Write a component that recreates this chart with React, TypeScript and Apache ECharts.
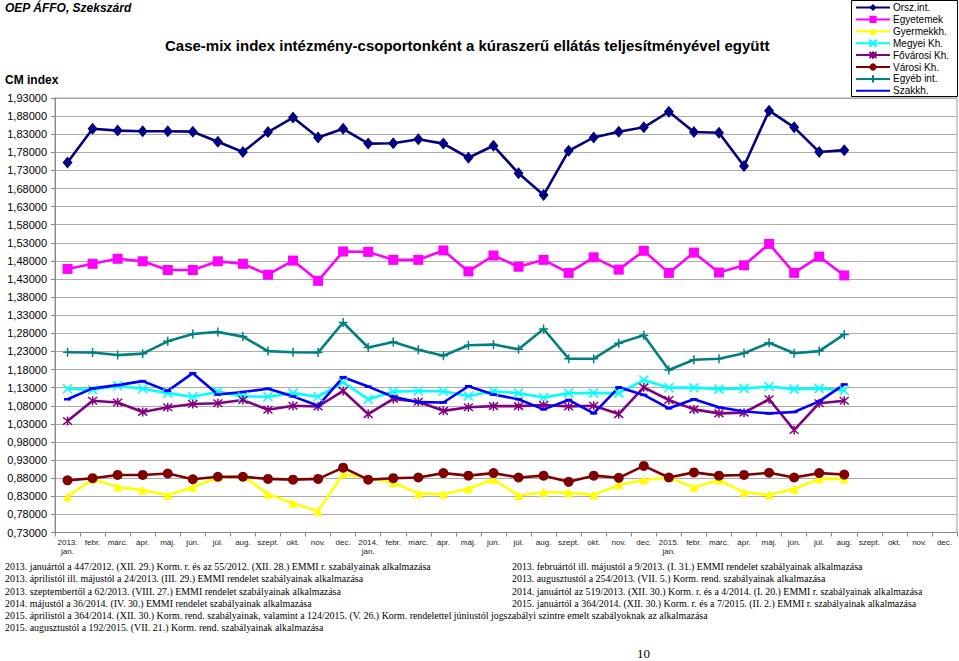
import React, { useEffect, useRef } from "react";
import * as echarts from "echarts";

const months: string[] = [
  "2013.\njan.", "febr.", "márc.", "ápr.", "máj.", "jún.", "júl.", "aug.", "szept.", "okt.", "nov.", "dec.",
  "2014.\njan.", "febr.", "márc.", "ápr.", "máj.", "jún.", "júl.", "aug.", "szept.", "okt.", "nov.", "dec.",
  "2015.\njan.", "febr.", "márc.", "ápr.", "máj.", "jún.", "júl.", "aug.", "szept.", "okt.", "nov.", "dec.",
];

const yTicks: number[] = [
  0.73, 0.78, 0.83, 0.88, 0.93, 0.98, 1.03, 1.08, 1.13, 1.18, 1.23, 1.28, 1.33,
  1.38, 1.43, 1.48, 1.53, 1.58, 1.63, 1.68, 1.73, 1.78, 1.83, 1.88, 1.93,
];

const orszInt: number[] = [
  1.752, 1.845, 1.840, 1.838, 1.838, 1.837, 1.809, 1.781, 1.836, 1.876, 1.821, 1.845,
  1.804, 1.805, 1.816, 1.804, 1.765, 1.798, 1.722, 1.662, 1.784, 1.821, 1.837, 1.849,
  1.892, 1.836, 1.834, 1.742, 1.895, 1.849, 1.781, 1.786,
];
const egyetemek: number[] = [
  1.458, 1.472, 1.486, 1.479, 1.455, 1.455, 1.479, 1.472, 1.442, 1.481, 1.425, 1.506,
  1.505, 1.483, 1.483, 1.509, 1.451, 1.495, 1.464, 1.483, 1.447, 1.490, 1.456, 1.508,
  1.447, 1.503, 1.448, 1.468, 1.527, 1.447, 1.492, 1.440,
];
const gyermekkh: number[] = [
  0.829, 0.877, 0.856, 0.847, 0.833, 0.855, 0.882, 0.886, 0.836, 0.811, 0.789, 0.892,
  0.880, 0.868, 0.838, 0.836, 0.851, 0.877, 0.832, 0.841, 0.840, 0.834, 0.861, 0.875,
  0.882, 0.854, 0.875, 0.841, 0.834, 0.850, 0.878, 0.878,
];
const megyeiKh: number[] = [
  1.127, 1.124, 1.135, 1.127, 1.115, 1.105, 1.119, 1.106, 1.105, 1.115, 1.105, 1.145,
  1.098, 1.119, 1.121, 1.120, 1.107, 1.120, 1.115, 1.103, 1.115, 1.115, 1.115, 1.151,
  1.130, 1.130, 1.126, 1.128, 1.133, 1.126, 1.128, 1.122,
];
const fovarosiKh: number[] = [
  1.038, 1.094, 1.089, 1.063, 1.076, 1.085, 1.087, 1.096, 1.069, 1.080, 1.078, 1.121,
  1.057, 1.099, 1.091, 1.066, 1.076, 1.079, 1.079, 1.082, 1.078, 1.080, 1.057, 1.131,
  1.096, 1.070, 1.059, 1.061, 1.098, 1.013, 1.087, 1.094,
];
const varosiKh: number[] = [
  0.874, 0.880, 0.889, 0.889, 0.893, 0.877, 0.884, 0.884, 0.878, 0.876, 0.878, 0.909,
  0.876, 0.880, 0.882, 0.894, 0.887, 0.894, 0.882, 0.887, 0.870, 0.887, 0.881, 0.914,
  0.882, 0.896, 0.887, 0.889, 0.895, 0.882, 0.894, 0.890,
];
const egyebInt: number[] = [
  1.228, 1.227, 1.220, 1.224, 1.258, 1.278, 1.284, 1.271, 1.231, 1.228, 1.227, 1.310,
  1.241, 1.256, 1.235, 1.218, 1.247, 1.249, 1.236, 1.292, 1.210, 1.210, 1.253, 1.275,
  1.179, 1.207, 1.210, 1.225, 1.254, 1.225, 1.231, 1.277,
];
const szakkh: number[] = [
  1.098, 1.128, 1.137, 1.148, 1.121, 1.170, 1.111, 1.118, 1.127, 1.106, 1.080, 1.159,
  1.133, 1.105, 1.090, 1.089, 1.134, 1.111, 1.098, 1.070, 1.096, 1.059, 1.131, 1.110,
  1.073, 1.098, 1.076, 1.064, 1.059, 1.063, 1.092, 1.139,
];

const footLeft: string[] = [
  "2013. januártól a 447/2012. (XII. 29.) Korm. r. és az 55/2012. (XII. 28.) EMMI r. szabályainak alkalmazása",
  "2013. áprilistól ill. májustól a 24/2013. (III. 29.) EMMI rendelet szabályainak alkalmazása",
  "2013. szeptembertől a 62/2013. (VIII. 27.) EMMI rendelet szabályainak alkalmazása",
  "2014. májustól a 36/2014. (IV. 30.) EMMI rendelet szabályainak alkalmazása",
  "2015. áprilistól a 364/2014. (XII. 30.) Korm. rend. szabályainak, valamint a 124/2015. (V. 26.) Korm. rendelettel júniustól jogszabályi szintre emelt szabályoknak az alkalmazása",
  "2015. augusztustól a 192/2015. (VII. 21.) Korm. rend. szabályainak alkalmazása",
];
const footRight: string[] = [
  "2013. februártól ill. májustól a 9/2013. (I. 31.) EMMI rendelet szabályainak alkalmazása",
  "2013. augusztustól a 254/2013. (VII. 5.) Korm. rend. szabályainak alkalmazása",
  "2014. januártól az 519/2013. (XII. 30.) Korm. r. és a 4/2014. (I. 20.) EMMI r. szabályainak alkalmazása",
  "2015. januártól a 364/2014. (XII. 30.) Korm. r. és a 7/2015. (II. 2.) EMMI r. szabályainak alkalmazása",
];

const X_SYM = "path://M0,0L10,10M10,0L0,10";
const STAR_SYM = "path://M0,0L10,10M10,0L0,10M5,-1L5,11";
const PLUS_SYM = "path://M5,0L5,10M0,5L10,5";

const seriesDefs = [
  { name: "Orsz.int.", data: orszInt, color: "#000080", symbol: "diamond", size: [10, 12], stroke: false },
  { name: "Egyetemek", data: egyetemek, color: "#FF00FF", symbol: "rect", size: 10, stroke: false },
  { name: "Gyermekkh.", data: gyermekkh, color: "#FFFF00", symbol: "triangle", size: 9, stroke: false },
  { name: "Megyei Kh.", data: megyeiKh, color: "#00FFFF", symbol: X_SYM, size: 9, stroke: true },
  { name: "Fővárosi Kh.", data: fovarosiKh, color: "#800080", symbol: STAR_SYM, size: 9, stroke: true },
  { name: "Városi Kh.", data: varosiKh, color: "#800000", symbol: "circle", size: 10, stroke: false },
  { name: "Egyéb int.", data: egyebInt, color: "#008080", symbol: PLUS_SYM, size: 9, stroke: true },
  { name: "Szakkh.", data: szakkh, color: "#0000FF", symbol: "rect", size: [7, 2.5], stroke: false },
];

const FONT = "Arial, 'Liberation Sans', sans-serif";
const SERIF = "'Times New Roman', 'Liberation Serif', serif";

export default function App() {
  const ref = useRef<HTMLDivElement>(null);
  useEffect(() => {
    if (!ref.current) return;
    const chart = echarts.init(ref.current, null, { renderer: "svg" });
    const graphics: any[] = [
      {
        type: "text", left: 5, top: 2,
        style: { text: "OEP ÁFFO, Szekszárd", font: `italic bold 12px ${FONT}`, fill: "#000" },
      },
      {
        type: "text", left: 165, top: 38,
        style: {
          text: "Case-mix index intézmény-csoportonként a kúraszerű ellátás teljesítményével együtt",
          font: `bold 15px ${FONT}`, fill: "#000",
        },
      },
      {
        type: "text", left: 5, top: 74,
        style: { text: "CM index", font: `bold 12px ${FONT}`, fill: "#000" },
      },
      {
        type: "rect", shape: { x: 851.5, y: 0.5, width: 106, height: 96 },
        style: { fill: "#fff", stroke: "#000", lineWidth: 1 }, z: -1,
      },
      {
        type: "text", left: 637, top: 647,
        style: { text: "10", font: `13px ${SERIF}`, fill: "#000" },
      },
    ];
    footLeft.forEach((t, i) => {
      graphics.push({
        type: "text", x: 5, y: 561 + i * 12.2, scaleX: 0.9,
        style: { text: t, font: `11px ${SERIF}`, fill: "#000", verticalAlign: "top" },
      });
    });
    footRight.forEach((t, i) => {
      graphics.push({
        type: "text", x: 512, y: 561 + i * 12.2, scaleX: 0.9,
        style: { text: t, font: `11px ${SERIF}`, fill: "#000", verticalAlign: "top" },
      });
    });

    chart.setOption({
      animation: false,
      backgroundColor: "#fff",
      textStyle: { fontFamily: FONT },
      grid: {
        left: 55, right: 2, top: 98, bottom: 128.5,
        show: true, borderColor: "#999", borderWidth: 1, backgroundColor: "transparent",
      },
      legend: {
        orient: "vertical", left: 853, top: 1,
        itemWidth: 34, itemHeight: 9, itemGap: 0.9, padding: [1, 2, 1, 2],
        textStyle: { fontSize: 10, lineHeight: 11, color: "#000", fontFamily: FONT, padding: [0, 0, 0, -2] },
        data: seriesDefs.map((s) =>
          s.name === "Szakkh." ? { name: s.name, itemStyle: { opacity: 0 } } : s.name
        ),
      },
      xAxis: {
        type: "category",
        data: months,
        boundaryGap: true,
        axisLine: { lineStyle: { color: "#888", width: 1 } },
        axisTick: { show: true, length: 4, lineStyle: { color: "#888" } },
        axisLabel: {
          interval: 0, fontSize: 8, color: "#222", margin: 5, lineHeight: 9, fontFamily: FONT,
        },
        splitLine: { show: false },
      },
      yAxis: {
        type: "value",
        min: 0.73,
        max: 1.93,
        axisLine: { show: true, lineStyle: { color: "#888", width: 1 } },
        axisTick: { show: true, length: 4, customValues: yTicks, lineStyle: { color: "#888" } },
        axisLabel: {
          customValues: yTicks,
          fontSize: 11, color: "#000", margin: 8, fontFamily: FONT,
          formatter: (v: number) => v.toFixed(5).replace(".", ","),
        },
        splitLine: { show: true, lineStyle: { color: "#acacac", width: 1 } },
      },
      series: seriesDefs.map((s) => ({
        name: s.name,
        type: "line",
        data: s.data,
        color: s.color,
        symbol: s.symbol,
        symbolSize: s.size,
        lineStyle: { color: s.color, width: 2.6 },
        itemStyle: s.stroke
          ? { color: s.color, borderColor: s.color, borderWidth: 1.5 }
          : { color: s.color },
        emphasis: { disabled: true },
      })),
      graphic: graphics,
    });
    return () => chart.dispose();
  }, []);
  return (
    <div
      ref={ref}
      style={{ position: "fixed", left: 0, top: 0, width: 959, height: 661, background: "#fff" }}
    />
  );
}
